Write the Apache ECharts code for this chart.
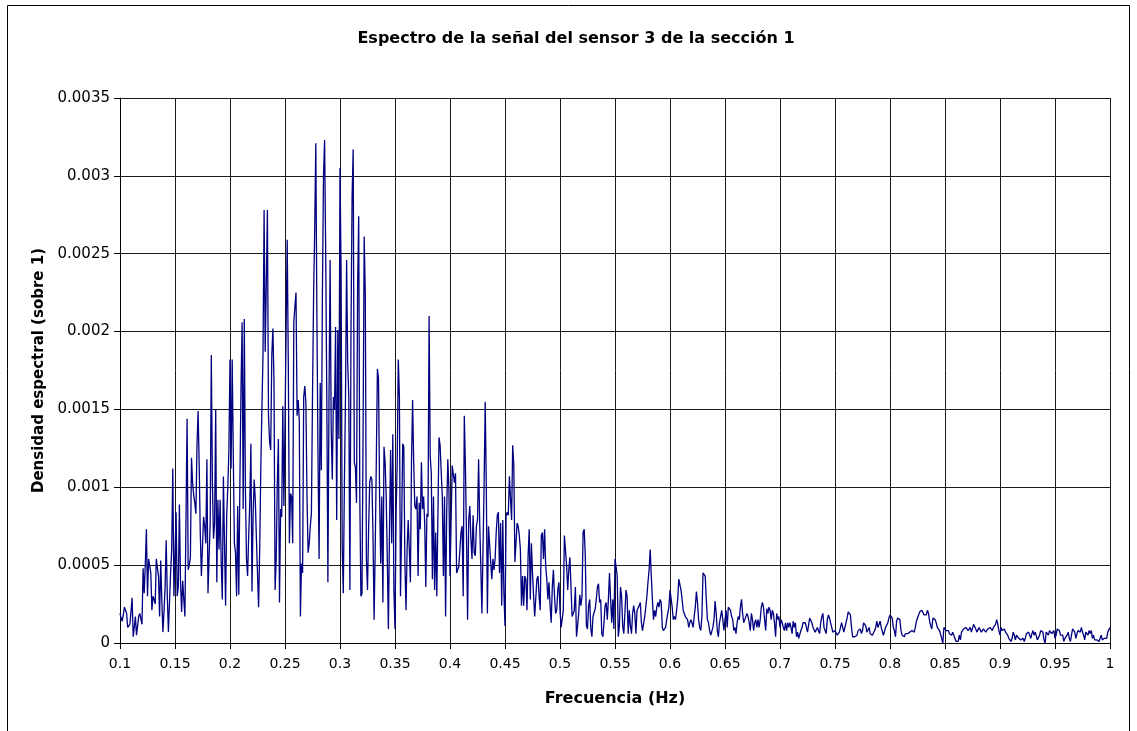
<!DOCTYPE html>
<html>
<head>
<meta charset="utf-8">
<script src="https://cdn.jsdelivr.net/npm/echarts@6/dist/echarts.min.js"></script>
<style>
html,body{margin:0;padding:0;background:#fff;}
#chart{width:1137px;height:731px;}
</style>
</head>
<body>
<div id="chart"></div>
<script>
// ---- data ----
const titulo = 'Espectro de la señal del sensor 3 de la sección 1';
const nombreX = 'Frecuencia (Hz)';
const nombreY = 'Densidad espectral (sobre 1)';
const frecInicio = 0.1;   // Hz, first spectral bin
const frecPaso = 0.001;   // Hz, bin spacing
const xTicks = ['0.1','0.15','0.2','0.25','0.3','0.35','0.4','0.45','0.5','0.55','0.6','0.65','0.7','0.75','0.8','0.85','0.9','0.95','1'];
const yTicks = ['0','0.0005','0.001','0.0015','0.002','0.0025','0.003','0.0035'];

// spectral density, 0.1 .. 0.472 Hz
const densidadA = [
19e-5,16e-5,14e-5,18e-5,23e-5,21e-5,19e-5,10e-5,11e-5,12e-5,
20e-5,29e-5,4e-5,10e-5,17e-5,5e-5,11e-5,17e-5,19e-5,20e-5,
12e-5,48e-5,32e-5,50e-5,73e-5,30e-5,54e-5,54e-5,45e-5,21e-5,
30e-5,28e-5,25e-5,54e-5,48e-5,43e-5,17e-5,53e-5,28e-5,7e-5,
20e-5,36e-5,66e-5,30e-5,7e-5,26e-5,45e-5,60e-5,112e-5,30e-5,
57e-5,84e-5,30e-5,36e-5,89e-5,40e-5,20e-5,40e-5,28e-5,17e-5,
80e-5,144e-5,47e-5,50e-5,55e-5,119e-5,103e-5,95e-5,90e-5,83e-5,
127e-5,149e-5,114e-5,70e-5,43e-5,42e-5,81e-5,75e-5,64e-5,118e-5,
32e-5,55e-5,77e-5,185e-5,103e-5,67e-5,77e-5,150e-5,39e-5,92e-5,
60e-5,92e-5,52e-5,28e-5,107e-5,64e-5,24e-5,82e-5,100e-5,124e-5,
182e-5,112e-5,182e-5,120e-5,64e-5,58e-5,30e-5,88e-5,31e-5,103e-5,
163e-5,206e-5,86e-5,208e-5,99e-5,54e-5,43e-5,69e-5,90e-5,128e-5,
33e-5,82e-5,105e-5,92e-5,67e-5,45e-5,23e-5,60e-5,112e-5,150e-5,
185e-5,278e-5,187e-5,230e-5,278e-5,146e-5,129e-5,124e-5,185e-5,202e-5,
167e-5,34e-5,54e-5,103e-5,131e-5,26e-5,86e-5,81e-5,152e-5,88e-5,
141e-5,200e-5,259e-5,180e-5,64e-5,96e-5,94e-5,64e-5,206e-5,216e-5,
225e-5,146e-5,156e-5,143e-5,17e-5,51e-5,45e-5,158e-5,165e-5,154e-5,
94e-5,58e-5,64e-5,75e-5,83e-5,158e-5,223e-5,265e-5,321e-5,210e-5,
120e-5,54e-5,167e-5,111e-5,223e-5,300e-5,323e-5,250e-5,158e-5,39e-5,
158e-5,246e-5,137e-5,105e-5,158e-5,150e-5,203e-5,79e-5,201e-5,131e-5,
305e-5,238e-5,62e-5,32e-5,103e-5,158e-5,246e-5,180e-5,158e-5,34e-5,
201e-5,287e-5,317e-5,116e-5,113e-5,90e-5,229e-5,274e-5,94e-5,30e-5,
32e-5,137e-5,261e-5,223e-5,54e-5,34e-5,73e-5,103e-5,107e-5,105e-5,
69e-5,15e-5,60e-5,116e-5,176e-5,170e-5,94e-5,51e-5,94e-5,26e-5,
126e-5,116e-5,94e-5,54e-5,9e-5,73e-5,124e-5,64e-5,134e-5,34e-5,
9e-5,83e-5,116e-5,182e-5,158e-5,30e-5,73e-5,128e-5,126e-5,51e-5,
21e-5,60e-5,79e-5,60e-5,39e-5,116e-5,156e-5,116e-5,88e-5,86e-5,
94e-5,43e-5,90e-5,73e-5,116e-5,86e-5,94e-5,77e-5,36e-5,83e-5,
81e-5,210e-5,120e-5,109e-5,41e-5,94e-5,34e-5,71e-5,30e-5,30e-5,
132e-5,127e-5,110e-5,94e-5,43e-5,94e-5,17e-5,84e-5,118e-5,99e-5,
43e-5,43e-5,114e-5,114e-5,103e-5,109e-5,45e-5,47e-5,49e-5,60e-5,
71e-5,75e-5,30e-5,146e-5,114e-5,69e-5,15e-5,79e-5,88e-5,67e-5,
54e-5,82e-5,58e-5,56e-5,75e-5,79e-5,118e-5,77e-5,49e-5,19e-5,
60e-5,101e-5,155e-5,101e-5,19e-5,75e-5,75e-5,52e-5,41e-5,54e-5,
47e-5,54e-5,71e-5,82e-5,84e-5,45e-5,77e-5,24e-5,79e-5,32e-5,
11e-5,82e-5,84e-5,82e-5,107e-5,107e-5,79e-5,127e-5,114e-5,52e-5,
52e-5,77e-5,75e-5,69e-5,60e-5,24e-5,43e-5,24e-5,43e-5,41e-5,
21e-5,56e-5,73e-5,28e-5,64e-5,45e-5,30e-5,17e-5,17e-5,41e-5,
43e-5,30e-5,21e-5,69e-5,71e-5,54e-5,73e-5,49e-5,41e-5,28e-5,
39e-5,24e-5,13e-5,36e-5,47e-5,30e-5,19e-5,21e-5,34e-5,39e-5,
21e-5,10e-5,11e-5,21e-5,69e-5,68e-5,50e-5,34e-5,47e-5,55e-5,
36e-5,17e-5,19e-5,21e-5,36e-5,4e-5,11e-5,19e-5,31e-5,24e-5,
30e-5,71e-5,73e-5,56e-5,11e-5,9e-5,24e-5,28e-5,9e-5,4e-5,
17e-5,17e-5,22e-5,28e-5,36e-5,38e-5,26e-5,28e-5,6e-5,4e-5,
13e-5,24e-5,26e-5,15e-5,28e-5,45e-5,28e-5,13e-5,28e-5,9e-5,
54e-5,49e-5,43e-5,4e-5,11e-5,36e-5,30e-5,11e-5,6e-5,19e-5,
34e-5,30e-5,6e-5,21e-5,11e-5,6e-5,19e-5,24e-5,19e-5,6e-5,
21e-5,21e-5,24e-5
];
// 0.473 .. 0.585 Hz
const densidadB = [
26e-5,13e-5,8e-5,8e-5,17e-5,23e-5,30e-5,39e-5,47e-5,60e-5,
43e-5,28e-5,15e-5,21e-5,17e-5,23e-5,26e-5,23e-5,28e-5,26e-5,
10e-5,8e-5,8e-5,10e-5,15e-5,19e-5,23e-5,34e-5,35e-5,23e-5,
15e-5,17e-5,15e-5,21e-5,28e-5,41e-5,42e-5,34e-5,28e-5,21e-5,
19e-5,17e-5,17e-5,15e-5,10e-5,13e-5,15e-5,13e-5,10e-5,17e-5,
23e-5,33e-5,26e-5,15e-5,10e-5,8e-5,17e-5,45e-5,44e-5,43e-5,
28e-5,15e-5,13e-5,8e-5,5e-5,4e-5,10e-5,15e-5,27e-5,19e-5,
8e-5,4e-5,13e-5,17e-5,21e-5,15e-5,8e-5,15e-5,21e-5,10e-5,
23e-5,24e-5,21e-5,17e-5,15e-5,8e-5,10e-5,6e-5,13e-5,17e-5,
15e-5,23e-5,28e-5,19e-5,13e-5,15e-5,17e-5,19e-5,17e-5,13e-5,
8e-5,19e-5,15e-5,8e-5,13e-5,15e-5,10e-5,15e-5,10e-5,15e-5,
23e-5,26e-5,23e-5
];
// 0.586 .. 0.745 Hz
const densidadC = [
15e-5,8e-5,22e-5,19e-5,23e-5,21e-5,15e-5,21e-5,19e-5,13e-5,
4e-5,19e-5,15e-5,17e-5,10e-5,15e-5,13e-5,10e-5,8e-5,
13e-5,8e-5,13e-5,10e-5,13e-5,10e-5,6e-5,14e-5,10e-5,
13e-5,4e-5,7e-5,3e-5,2e-5,8e-5,10e-5,13e-5,14e-5,
13e-5,10e-5,7e-5,8e-5,16e-5,17e-5,13e-5,10e-5,10e-5,
7e-5,7e-5,10e-5,10e-5,6e-5,13e-5,17e-5,19e-5,10e-5,
8e-5,6e-5,15e-5,18e-5,16e-5,15e-5,10e-5,7e-5,6e-5,
8e-5,7e-5,5e-5,4e-5,7e-5,10e-5,13e-5,10e-5,7e-5,
8e-5,13e-5,16e-5,20e-5,21e-5,18e-5,10e-5,4e-5,5e-5,
4e-5,4e-5,5e-5,8e-5,7e-5,9e-5,6e-5,8e-5,13e-5,
13e-5,11e-5,7e-5,6e-5,10e-5,6e-5,5e-5,5e-5,4e-5,
8e-5,10e-5,14e-5,10e-5,11e-5,14e-5,10e-5,9e-5,5e-5,4e-5,
10e-5,10e-5,13e-5,16e-5,18e-5,19e-5,16e-5,10e-5,8e-5,
4e-5,14e-5,16e-5,17e-5,15e-5,8e-5,5e-5,4e-5,4e-5,
6e-5,7e-5,6e-5,5e-5,7e-5,8e-5,8e-5,9e-5,7e-5,
10e-5,14e-5,16e-5,18e-5,20e-5,19e-5,21e-5,20e-5,18e-5,
17e-5,18e-5,21e-5,19e-5,14e-5,11e-5,9e-5,16e-5,17e-5,
15e-5,13e-5,10e-5,9e-5,8e-5
];
// 0.746 .. 1.0 Hz
const densidadD = [
7e-5,3e-5,0,10e-5,9e-5,8e-5,7e-5,8e-5,6e-5,5e-5,
5e-5,7e-5,8e-5,3e-5,1e-5,2e-5,1e-5,5e-5,2e-5,
7e-5,7e-5,9e-5,8e-5,10e-5,11e-5,8e-5,7e-5,10e-5,
7e-5,6e-5,12e-5,13e-5,9e-5,7e-5,8e-5,10e-5,9e-5,
7e-5,8e-5,9e-5,9e-5,7e-5,8e-5,9e-5,8e-5,10e-5,
9e-5,8e-5,10e-5,11e-5,12e-5,15e-5,12e-5,8e-5,5e-5,
10e-5,8e-5,7e-5,9e-5,7e-5,6e-5,5e-5,3e-5,2e-5,
1e-5,3e-5,7e-5,5e-5,2e-5,5e-5,5e-5,3e-5,2e-5,
2e-5,3e-5,3e-5,1e-5,3e-5,6e-5,7e-5,7e-5,5e-5,
3e-5,6e-5,8e-5,5e-5,7e-5,6e-5,2e-5,3e-5,5e-5,
8e-5,9e-5,7e-5,2e-5,0,7e-5,8e-5,5e-5,8e-5,
7e-5,6e-5,5e-5,8e-5,3e-5,5e-5,9e-5,8e-5,8e-5,5e-5,
6e-5,5e-5,1e-5,3e-5,2e-5,5e-5,7e-5,3e-5,1e-5,
5e-5,9e-5,8e-5,7e-5,3e-5,6e-5,8e-5,9e-5,7e-5,
10e-5,7e-5,5e-5,2e-5,7e-5,8e-5,5e-5,8e-5,6e-5,
8e-5,3e-5,5e-5,2e-5,1e-5,2e-5,3e-5,1e-5,2e-5,
5e-5,2e-5,1e-5,3e-5,2e-5,3e-5,7e-5,8e-5,
10e-5
];

// ---- build ----
const densidad = densidadA.concat(densidadB, densidadC, densidadD);
const datos = densidad.map((v, i) => [+(frecInicio + i * frecPaso).toFixed(3), v]);

const FONT = 'DejaVu Sans';
const chart = echarts.init(document.getElementById('chart'), null, {renderer: 'canvas'});
chart.setOption({
  animation: false,
  backgroundColor: '#ffffff',
  title: {
    text: titulo,
    left: 571, top: 26, textAlign: 'center',
    textStyle: {fontFamily: FONT, fontWeight: 'bold', fontSize: 16, color: '#000'}
  },
  graphic: [{
    type: 'rect', x: 0, y: 0, silent: true,
    shape: {x: 7.5, y: 5.5, width: 1122, height: 740},
    style: {fill: 'none', stroke: '#000', lineWidth: 1}
  }],
  grid: {left: 120, right: 27, top: 98, bottom: 88, containLabel: false, outerBoundsMode: 'none'},
  xAxis: {
    type: 'value', min: 0.1, max: 1, interval: 0.05,
    name: nombreX, nameLocation: 'middle', nameGap: 48,
    nameTextStyle: {fontFamily: FONT, fontWeight: 'bold', fontSize: 16, color: '#000'},
    axisLine: {show: true, onZero: false, lineStyle: {color: '#000', width: 1}},
    axisTick: {show: true, length: 6, lineStyle: {color: '#000', width: 1}},
    axisLabel: {
      color: '#000', fontFamily: FONT, fontSize: 14, margin: 14,
      formatter: v => xTicks[Math.round((v - 0.1) / 0.05)]
    },
    splitLine: {show: true, lineStyle: {color: '#1a1a1a', width: 1}}
  },
  yAxis: {
    type: 'value', min: 0, max: 0.0035, interval: 0.0005,
    name: nombreY, nameLocation: 'middle', nameGap: 72, nameRotate: 90,
    nameTextStyle: {fontFamily: FONT, fontWeight: 'bold', fontSize: 15, color: '#000'},
    axisLine: {show: true, lineStyle: {color: '#000', width: 1}},
    axisTick: {show: true, length: 6, lineStyle: {color: '#000', width: 1}},
    axisLabel: {
      color: '#000', fontFamily: FONT, fontSize: 15, margin: 10,
      formatter: v => yTicks[Math.round(v / 0.0005)]
    },
    splitLine: {show: true, lineStyle: {color: '#1a1a1a', width: 1}}
  },
  series: [{
    type: 'line', data: datos, showSymbol: false, symbol: 'none', silent: true,
    lineStyle: {color: '#000080', width: 1.3}
  }]
});
</script>
</body>
</html>
